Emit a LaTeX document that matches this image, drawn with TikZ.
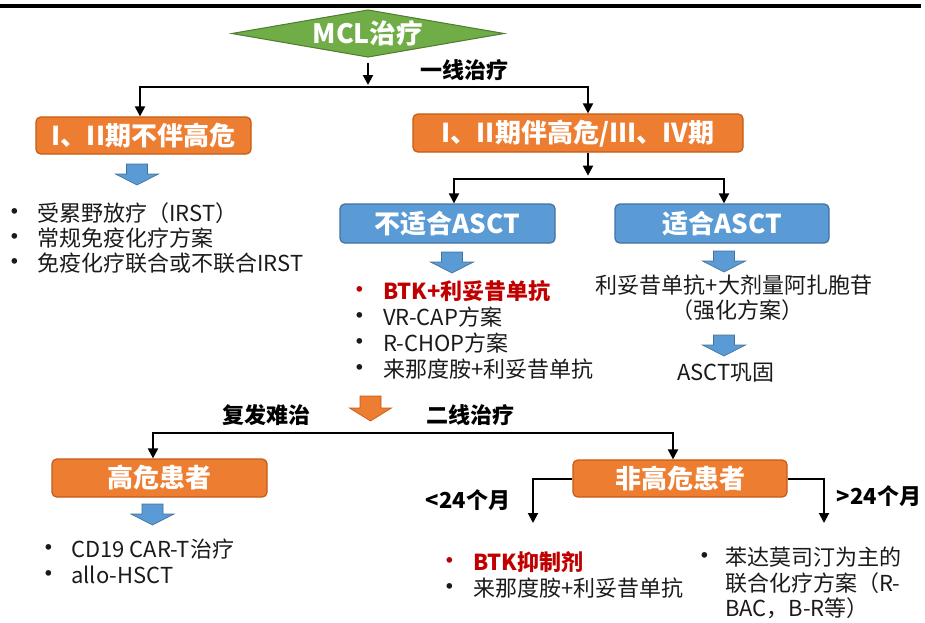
\documentclass[tikz,border=0pt]{standalone}
\usepackage{fontspec}
\setmainfont{Noto Sans CJK SC}
\usetikzlibrary{arrows.meta}
\definecolor{orangeF}{HTML}{ED7D31}
\definecolor{orangeD}{HTML}{C55A11}
\definecolor{blueF}{HTML}{5B9BD5}
\definecolor{blueD}{HTML}{41719C}
\definecolor{greenF}{HTML}{70AD47}
\definecolor{greenD}{HTML}{507E32}
\definecolor{redC}{HTML}{C00000}
\definecolor{txtC}{HTML}{1A1A1A}
\tikzset{
  itm/.style={anchor=west, inner sep=0pt, font=\fontsize{16.5}{19}\selectfont, text height=14.5pt, text depth=2pt, text=txtC},
  itmr/.style={itm, text=redC, font=\bfseries\fontsize{16.5}{19}\selectfont},
  bul/.style={anchor=center, inner sep=0pt, text=txtC, font=\fontsize{20}{20}\selectfont, text height=12.5pt, text depth=0pt},
  bulr/.style={bul, text=redC},
  ctr/.style={itm, anchor=center},
  lab/.style={inner sep=0pt, font=\bfseries\fontsize{16.5}{19}\selectfont, text height=14.5pt, text depth=2pt, text=black},
  obox/.style={rectangle, rounded corners=3.5pt, fill=orangeF, draw=orangeD, line width=0.9pt, text=white, font=\bfseries\fontsize{19.5}{22}\selectfont, text height=17pt, text depth=2.5pt, inner sep=0pt},
  bbox/.style={obox, fill=blueF, draw=blueD},
  conn/.style={line width=1.5pt, -{Triangle[width=7.5pt,length=7.5pt]}},
  conn2/.style={line width=1.5pt, {Triangle[width=7.5pt,length=7.5pt]}-{Triangle[width=7.5pt,length=7.5pt]}},
  pics/bdown/.style={code={\filldraw[fill=blueF, draw=blueD, line width=0.5pt] (-10.5,0) -- (10.5,0) -- (10.5,10) -- (21.5,10) -- (0,21) -- (-21.5,10) -- (-10.5,10) -- cycle;}},
  pics/odown/.style={code={\filldraw[fill=orangeF, draw=orangeD, line width=0.5pt] (-10.5,0) -- (10.5,0) -- (10.5,12) -- (21,12) -- (0,25) -- (-21,12) -- (-10.5,12) -- cycle;}},
}
\begin{document}
\begin{tikzpicture}[x=0.75pt, y=-0.75pt]
\useasboundingbox (0,0) rectangle (925,622);

% top rule
\coordinate (t1) at (0,6);
\coordinate (t2) at (921,6);
\draw[line width=2.4pt] (t1) -- (t2);

% diamond
\coordinate (dtop) at (368,10);
\coordinate (dright) at (504,33.5);
\coordinate (dbot) at (368,57);
\coordinate (dleft) at (232,33.5);
\filldraw[fill=greenF, draw=greenD, line width=0.8pt] (dleft) -- (dtop) -- (dright) -- (dbot) -- cycle;
\node[text=white, inner sep=0pt, font=\bfseries\fontsize{20}{24}\selectfont] (dia) at (368,33.5) {MCL治疗};

% first line
\node[lab] (l1) at (464,70) {一线治疗};
\coordinate (a1) at (140,87);
\coordinate (a2) at (588,87);
\node[obox, minimum width=161.25pt, minimum height=27.75pt] (b1) at (143.5,135.5) {I、II期不伴高危};
\node[obox, minimum width=247.5pt, minimum height=28.5pt] (b2) at (578,133) {I、II期伴高危/III、IV期};
\draw[conn, shorten <=4.5pt, shorten >=1.5pt] (dbot) -- (dbot |- a1);
\draw[conn2] (a1 |- b1.north) -- (a1) -- (a2) -- (a2 |- b2.north);

% left branch
\pic at (137,164) {bdown};
\node[bul] (p1b) at (15,213) {•};
\node[itm] (p1) at (37,213) {受累野放疗（IRST）};
\node[bul] (p2b) at (15,238) {•};
\node[itm] (p2) at (37,238) {常规免疫化疗方案};
\node[bul] (p3b) at (15,263) {•};
\node[itm] (p3) at (37,263) {免疫化疗联合或不联合IRST};

% ASCT split
\coordinate (c1) at (454,179);
\coordinate (c2) at (724,179);
\node[bbox, minimum width=161.25pt, minimum height=29.25pt] (nfit) at (447.5,223.5) {不适合ASCT};
\node[bbox, minimum width=160.5pt, minimum height=29.25pt] (fit) at (722,223.5) {适合ASCT};
\draw[conn, shorten >=2.5pt] (a2 |- b2.south) -- (a2 |- c1);
\draw[conn2] (c1 |- nfit.north) -- (c1) -- (c2) -- (c2 |- fit.north);

\pic at (452,252) {bdown};
\node[bulr] (r1b) at (360,291) {•};
\node[itmr] (r1) at (383,291) {BTK+利妥昔单抗};
\node[bul] (r2b) at (360,317) {•};
\node[itm] (r2) at (383,317) {VR-CAP方案};
\node[bul] (r3b) at (360,343) {•};
\node[itm] (r3) at (383,343) {R-CHOP方案};
\node[bul] (r4b) at (360,369) {•};
\node[itm] (r4) at (383,369) {来那度胺+利妥昔单抗};

\pic at (724,251) {bdown};
\node[ctr] (q1) at (734,285) {利妥昔单抗+大剂量阿扎胞苷};
\node[ctr] (q2) at (737,310) {（强化方案）};
\pic at (724,335) {bdown};
\node[ctr] (q3) at (726,372) {ASCT巩固};

% relapse
\pic at (370.5,396) {odown};
\node[lab] (l2) at (266,415) {复发难治};
\node[lab] (l3) at (470,415) {二线治疗};
\coordinate (d1) at (153,433);
\coordinate (d2) at (673,433);
\node[obox, minimum width=161.25pt, minimum height=28.5pt] (hr) at (159.5,478) {高危患者};
\node[obox, minimum width=160.5pt, minimum height=27.75pt] (nhr) at (680,478.5) {非高危患者};
\draw[conn2] (d1 |- hr.north) -- (d1) -- (d2) -- (d2 |- nhr.north);

\pic at (152.5,504) {bdown};
\node[bul] (s1b) at (49,549) {•};
\node[itm] (s1) at (71,549) {CD19 CAR-T治疗};
\node[bul] (s2b) at (49,575) {•};
\node[itm] (s2) at (71,575) {allo-HSCT};

\coordinate (f1) at (533,523);
\coordinate (f2) at (824,523);
\draw[conn] (nhr.west) -| (f1);
\draw[conn] (nhr.east) -| (f2);
\node[lab] (l4) at (468,500) {<24个月};
\node[lab] (l5) at (879,496) {>24个月};

\node[bulr] (u1b) at (450,562) {•};
\node[itmr] (u1) at (473,562) {BTK抑制剂};
\node[bul] (u2b) at (450,588) {•};
\node[itm] (u2) at (473,588) {来那度胺+利妥昔单抗};

\node[bul] (v1b) at (705,557) {•};
\node[itm] (v1) at (725,557) {苯达莫司汀为主的};
\node[itm] (v2) at (725,583) {联合化疗方案（R-};
\node[itm] (v3) at (725,608) {BAC，B-R等）};
\end{tikzpicture}
\end{document}
